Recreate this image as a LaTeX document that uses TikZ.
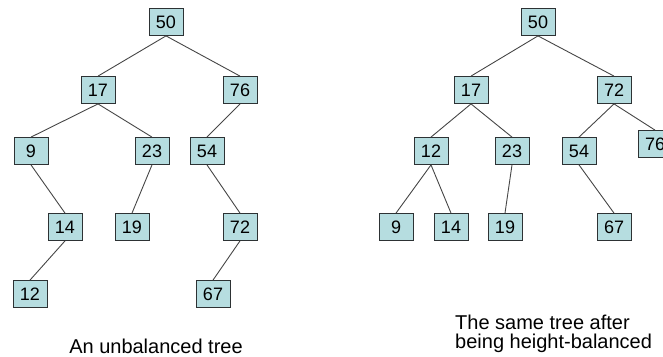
\documentclass[tikz,border=0pt]{standalone}
\usepackage{fontspec}
\setmainfont{Liberation Sans}
\usetikzlibrary{positioning}
\definecolor{boxfill}{RGB}{182,221,224}
\definecolor{boxline}{RGB}{45,50,52}
\definecolor{edge}{RGB}{70,70,70}
\tikzset{
  key/.style={draw=boxline,fill=boxfill,thick,minimum width=34pt,minimum height=27pt,inner sep=0pt,font=\fontsize{18}{20}\selectfont},
  br/.style={draw=edge,line width=0.9pt},
  captxt/.style={font=\fontsize{20}{20}\selectfont,inner sep=0pt,align=left},
}

\begin{document}
\begin{tikzpicture}[x=1pt,y=-1pt]
 \useasboundingbox (0,0) rectangle (663,356);
 % unbalanced tree
 \node[key] (a50) at (166,22) {50};
 \node[key] (a17) at (98,90) {17};
 \node[key] (a76) at (240,90) {76};
 \node[key] (a9) at (31,151) {9};
 \node[key] (a23) at (152,151) {23};
 \node[key] (a54) at (207,151) {54};
 \node[key] (a14) at (65,227) {14};
 \node[key] (a19) at (132,227) {19};
 \node[key] (a72) at (240,227) {72};
 \node[key] (a12) at (30,294) {12};
 \node[key] (a67) at (213,294) {67};
 \foreach \p/\c in {a50/a17,a50/a76,a17/a9,a17/a23,a76/a54,a9/a14,a23/a19,a54/a72,a14/a12,a72/a67}
  {\draw[br] (\p.south) -- (\c.north);}
 \node[captxt,anchor=base] (capa) at (156,353) {An unbalanced tree};
 % height-balanced tree
 \node[key] (b50) at (538,22) {50};
 \node[key] (b17) at (471,90) {17};
 \node[key] (b72) at (614,90) {72};
 \node[key] (b12) at (431,151) {12};
 \node[key] (b23) at (512,151) {23};
 \node[key] (b54) at (579,151) {54};
 \node[key] (b76) at (655,144) {76};
 \node[key] (b9) at (396,227) {9};
 \node[key] (b14) at (451,227) {14};
 \node[key] (b19) at (505,227) {19};
 \node[key] (b67) at (614,227) {67};
 \foreach \p/\c in {b50/b17,b50/b72,b17/b12,b17/b23,b72/b54,b72/b76,b12/b9,b12/b14,b23/b19,b54/b67}
  {\draw[br] (\p.south) -- (\c.north);}
 \node[captxt,anchor=base west] (capb) at (455,329) {The same tree after};
 \node[captxt,anchor=base west] (capc) at (455,348) {being height-balanced};
\end{tikzpicture}
\end{document}
